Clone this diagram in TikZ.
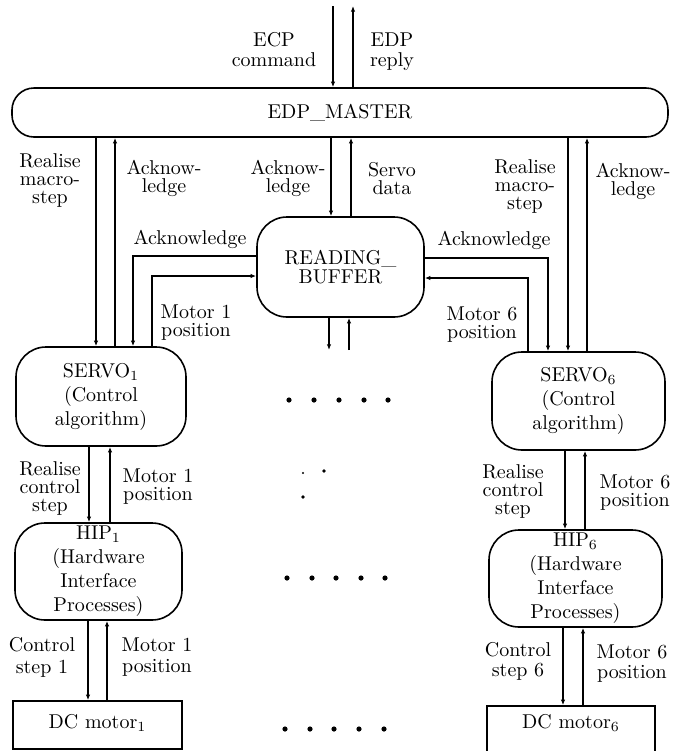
\documentclass[tikz,border=0pt]{standalone}
\usetikzlibrary{arrows.meta}
\begin{document}
\begin{tikzpicture}[x=0.5pt,y=-0.5pt,
  rbox/.style={draw, line width=0.8pt, rounded corners=15pt, inner sep=0pt, align=center, font=\fontsize{10}{12}\selectfont},
  sbox/.style={draw, line width=0.8pt, inner sep=0pt, align=center, font=\fontsize{10}{12}\selectfont},
  lab/.style={inner sep=0pt, align=center, font=\fontsize{10}{9}\selectfont},
  tight/.style={font=\fontsize{10}{9}\selectfont},
  arr/.style={-{Latex[length=2.8pt,width=2.2pt]}, line width=0.65pt},
  dot/.style={fill=black}]
\useasboundingbox (0,0) rectangle (679,751);
\clip (0,0) rectangle (679,751);

% boxes
\node[rbox, rounded corners=11pt, minimum width=328pt, minimum height=24.5pt] (master) at (340,112.5) {EDP\_MASTER};
\node[rbox, minimum width=83.5pt, minimum height=50pt, font=\fontsize{10}{9.5}\selectfont] (rb) at (340.5,267) {READING\_\\BUFFER};
\node[rbox, minimum width=85pt, minimum height=49.5pt] (servo1) at (101,396.5) {SERVO$_1$\\(Control\\algorithm)};
\node[rbox, minimum width=86.5pt, minimum height=49pt] (servo6) at (578.5,401) {SERVO$_6$\\(Control\\algorithm)};
\node[rbox, minimum width=83.5pt, minimum height=48.5pt] (hip1) at (98.5,571.5) {HIP$_1$\\(Hardware\\Interface\\Processes)};
\node[rbox, minimum width=86.5pt, minimum height=48.5pt] (hip6) at (575.5,578.5) {HIP$_6$\\(Hardware\\Interface\\Processes)};
\node[sbox, minimum width=84.5pt, text height=13.5pt, text depth=10.5pt] (dc1) at (97.5,725) {DC motor$_1$};
\node[sbox, minimum width=84pt, text height=11pt, text depth=12.5pt] (dc6) at (571,729.5) {DC motor$_6$};

% free ends
\coordinate (ecptop) at (333,6);
\coordinate (edptop) at (353,6);
\coordinate (rbdown) at (329,350);
\coordinate (rbup) at (349,350);

% top arrows
\draw[arr] (ecptop) -- (master.north -| ecptop);
\draw[arr] (master.north -| edptop) -- (edptop);

% master <-> servos and buffer
\draw[arr] (master.south -| 96,0) -- (servo1.north -| 96,0);
\draw[arr] (servo1.north -| 115,0) -- (master.south -| 115,0);
\draw[arr] (master.south -| 331,0) -- (rb.north -| 331,0);
\draw[arr] (rb.north -| 351,0) -- (master.south -| 351,0);
\draw[arr] (master.south -| 568,0) -- (servo6.north -| 568,0);
\draw[arr] (servo6.north -| 587,0) -- (master.south -| 587,0);

% buffer <-> servos
\draw[arr] (rb.west |- 0,256) -| (servo1.north -| 133,0);
\draw[arr] (servo1.north -| 152,0) |- (rb.west |- 0,276);
\draw[arr] (rb.east |- 0,258) -| (servo6.north -| 548,0);
\draw[arr] (servo6.north -| 528,0) |- (rb.east |- 0,278);

% buffer bottom
\draw[arr] (rb.south -| rbdown) -- (rbdown);
\draw[arr] (rbup) -- (rb.south -| rbup);

% servo <-> hip
\draw[arr] (servo1.south -| 89,0) -- (hip1.north -| 89,0);
\draw[arr] (hip1.north -| 110,0) -- (servo1.south -| 110,0);
\draw[arr] (servo6.south -| 565,0) -- (hip6.north -| 565,0);
\draw[arr] (hip6.north -| 585,0) -- (servo6.south -| 585,0);

% hip <-> dc motor
\draw[arr] (hip1.south -| 88,0) -- (dc1.north -| 88,0);
\draw[arr] (dc1.north -| 107,0) -- (hip1.south -| 107,0);
\draw[arr] (hip6.south -| 563,0) -- (dc6.north -| 563,0);
\draw[arr] (dc6.north -| 583,0) -- (hip6.south -| 583,0);

% labels
\node[lab, font=\fontsize{10}{10}\selectfont] (lecp) at (274,50) {ECP\\command};
\node[lab, font=\fontsize{10}{10}\selectfont] (ledp) at (392,52) {EDP\\reply};
\node[lab, tight] (lrm1) at (50,180) {Realise\\macro-\\step};
\node[lab] (lak1) at (164,178) {Acknow-\\ledge};
\node[lab] (lakm) at (288,178) {Acknow-\\ledge};
\node[lab] (lsd) at (392,179) {Servo\\data};
\node[lab, tight] (lrm6) at (525,186) {Realise\\macro-\\step};
\node[lab] (lak6) at (633,181) {Acknow-\\ledge};
\node[lab] (lakl) at (190,239) {Acknowledge};
\node[lab] (lakr) at (494,240) {Acknowledge};
\node[lab] (lm1a) at (196,323) {Motor 1\\position};
\node[lab] (lm6a) at (482,325) {Motor 6\\position};
\node[lab] (lrc1) at (50,488) {Realise\\control\\step};
\node[lab] (lm1b) at (158,487) {Motor 1\\position};
\node[lab] (lrc6) at (513,491) {Realise\\control\\step};
\node[lab] (lm6b) at (635,493) {Motor 6\\position};
\node[lab, font=\fontsize{10}{11}\selectfont] (lcs1) at (42,657) {Control\\step 1};
\node[lab, font=\fontsize{10}{10.5}\selectfont] (lm1c) at (157,657) {Motor 1\\position};
\node[lab, font=\fontsize{10}{10}\selectfont] (lcs6) at (518,661) {Control\\step 6};
\node[lab, font=\fontsize{10}{10}\selectfont] (lm6c) at (632,664) {Motor 6\\position};

% ellipsis dots
\foreach \x in {289,314,339,364,388} \fill[dot] (\x,400) circle[radius=1.3pt];
\foreach \x in {287,312,336,361,385} \fill[dot] (\x,578) circle[radius=1.3pt];
\foreach \x in {285,310,334,359,384} \fill[dot] (\x,729) circle[radius=1.3pt];
\fill[dot] (303,473) circle[radius=0.6pt];
\fill[dot] (324,471) circle[radius=0.9pt];
\fill[dot] (303,497) circle[radius=0.9pt];
\end{tikzpicture}
\end{document}
